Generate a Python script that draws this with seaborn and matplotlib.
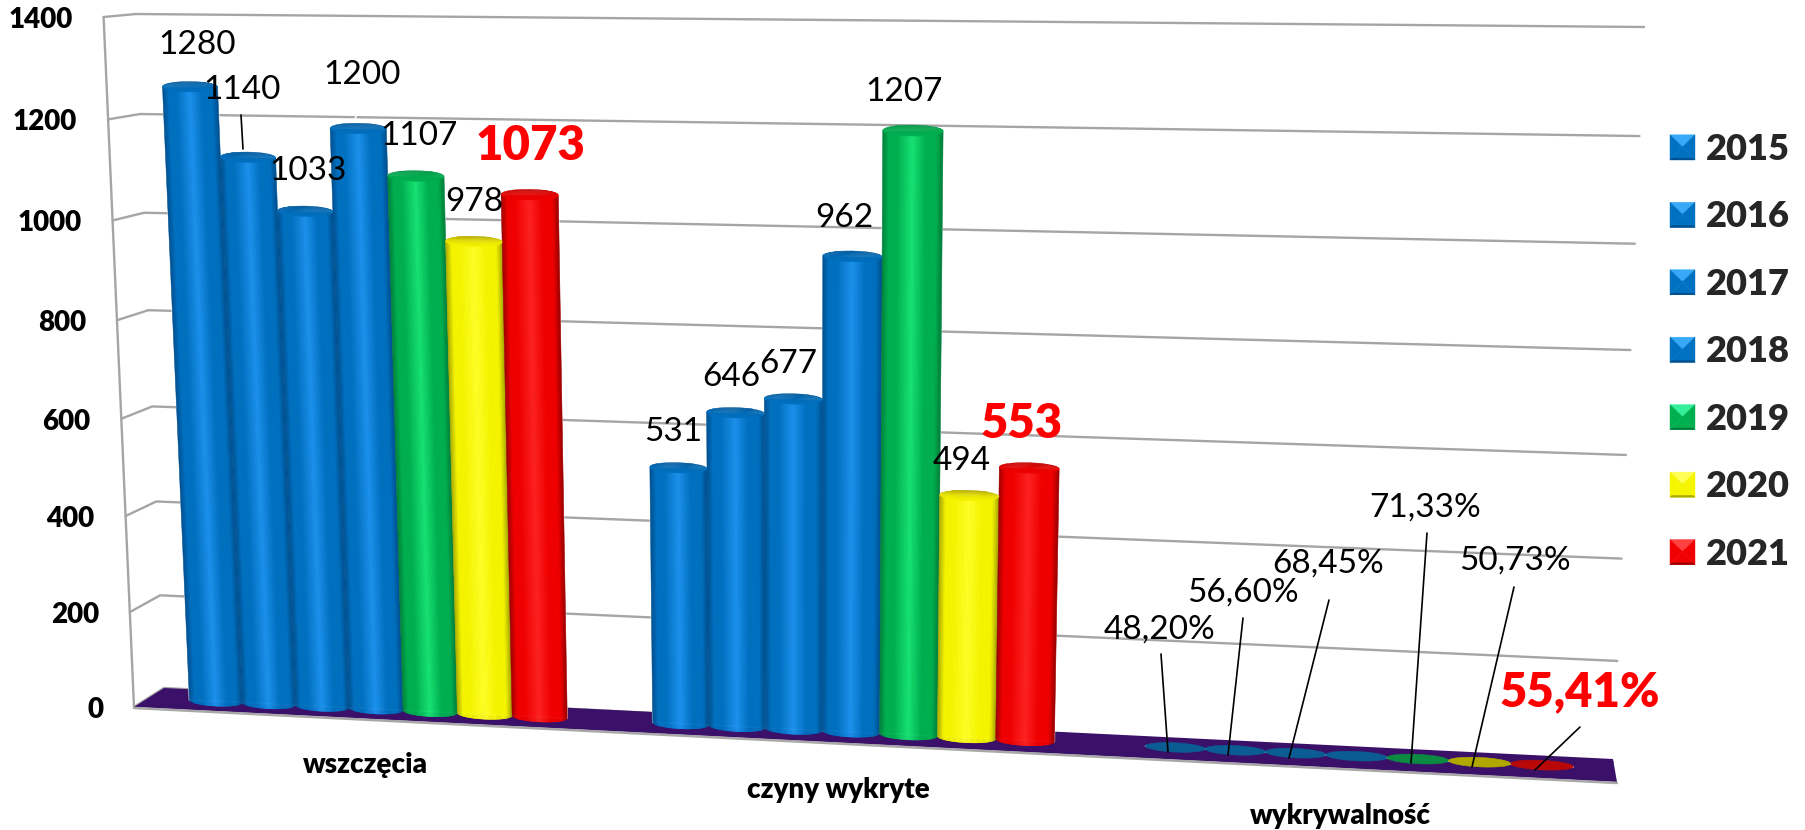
import numpy as np
import pandas as pd
import matplotlib
matplotlib.use("Agg")
import matplotlib.pyplot as plt
import seaborn as sns
from matplotlib.collections import PolyCollection
from matplotlib.colors import LinearSegmentedColormap, to_rgb
from matplotlib.legend_handler import HandlerBase
from matplotlib.patches import Patch, Polygon
from matplotlib.transforms import Affine2D, Transform

# Data
years = ["2015", "2016", "2017", "2018", "2019", "2020", "2021"]
categories = ["wszczęcia", "czyny wykryte", "wykrywalność"]
wszczecia = [1280, 1140, 1033, 1200, 1107, 978, 1073]
czyny = [531, 646, 677, 962, 1207, 494, 553]
wykrywalnosc = [0.4820, 0.5660, 0.6845, 0.6500, 0.7133, 0.5073, 0.5541]
ticks = [0, 200, 400, 600, 800, 1000, 1200, 1400]

# Colours: dark edge, body, highlight, cap, legend top
shades = {
    "blue": ("#004f8e", "#0070c0", "#1c92ee", "#075e9f", "#37a9f7"),
    "green": ("#007f3a", "#00b050", "#17e474", "#049a48", "#35f09a"),
    "yellow": ("#a8a800", "#f5f500", "#ffff28", "#b9ae00", "#ffff55"),
    "red": ("#9a0000", "#f00000", "#ff2222", "#c40505", "#ff4040"),
}
year_shade = ["blue", "blue", "blue", "blue", "green", "yellow", "red"]
disc_colors = ["#0b5c92", "#0b5c92", "#0b5c92", "#0b5c92", "#0b8a42", "#b0a800", "#b80808"]

# Camera used for the tilted chart: (category position, value) to reference pixel
camera = np.array([[449.3, -0.02667, 376.0],
                   [0.9, -0.488, 709.0],
                   [-0.03017, -3.3e-5, 1.0]])
W, H = 1806, 830


class Tilted(Transform):
    input_dims = output_dims = 2
    is_separable = False
    has_inverse = False

    def transform_non_affine(self, values):
        values = np.asarray(values, dtype=float)
        full = np.column_stack([values, np.ones(len(values))]) @ camera.T
        return np.column_stack([full[:, 0] / full[:, 2], H - full[:, 1] / full[:, 2]])


tilted = Tilted()
px = Affine2D().scale(1, -1).translate(0, H)


class BevelHandler(HandlerBase):
    def create_artists(self, legend, orig_handle, xdescent, ydescent, width, height, fontsize, trans):
        dark, mid, _, cap, top = orig_handle.shade
        x0, y0 = -xdescent, -ydescent
        x1, y1 = x0 + width, y0 + height
        cx, cy = (x0 + x1) / 2, y0 + height * 0.52
        d = width * 0.07
        faces = [([(x0, y1), (x1, y1), (cx, cy)], top),
                 ([(x0, y0), (x0, y1), (cx, cy)], mid),
                 ([(x1, y0), (x1, y1), (cx, cy)], mid),
                 ([(x0, y0), (x1, y0), (cx, cy)], mid),
                 ([(x0, y0), (x1, y0), (x1 - d, y0 + d), (x0 + d, y0 + d)], dark)]
        return [Polygon(p, closed=True, facecolor=c, edgecolor=c, lw=0.3, transform=trans) for p, c in faces]


sns.set_theme(style="white")
plt.rcParams["font.family"] = ["Lato", "DejaVu Sans"]

df = pd.DataFrame({
    "kategoria": np.repeat(categories, len(years)),
    "rok": years * len(categories),
    "wartosc": wszczecia + czyny + wykrywalnosc,
})

fig = plt.figure(figsize=(W / 100, H / 100), dpi=100, facecolor="white")
ax = fig.add_axes([0, 0, 1, 1])
palette = {y: shades[s][1] for y, s in zip(years, year_shade)}
sns.barplot(data=df, x="kategoria", y="wartosc", hue="rok", hue_order=years, order=categories,
            palette=palette, width=0.82, gap=0, legend=False, ax=ax)
ax.set_xlim(-0.5, 2.5)
ax.set_ylim(0, 1400)
ax.axis("off")

# Back wall and grid
tilt = -3.1e-5


def wall(v, low, high):
    s = (v / 1400) * (1 + tilt * 1400) / (1 + tilt * v)
    return low + (high - low) * s


front_low, front_high = np.array([134, 707.0]), np.array([103.6, 17.0])
back_low, back_high = np.array([164, 688.0]), np.array([136, 14.0])
right_low, right_high = np.array([1613, 762.0]), np.array([1644, 27.0])
for v in ticks:
    pts = np.array([wall(v, front_low, front_high), wall(v, back_low, back_high), wall(v, right_low, right_high)])
    ax.plot(pts[:, 0], pts[:, 1], color="#a5a5a5", lw=1.7, transform=px, scalex=False, scaley=False,
            zorder=1, clip_on=False, solid_capstyle="round")
    ax.text(pts[0, 0] - 31, pts[0, 1] + 3, str(v), transform=px, ha="right", va="center",
            fontsize=20, fontweight="heavy", color="black", zorder=8)
ax.plot([front_low[0], front_high[0]], [front_low[1], front_high[1]], color="#a5a5a5", lw=1.7,
        transform=px, scalex=False, scaley=False, zorder=1, clip_on=False)

# Floor
ax.add_patch(Polygon([(134, 707), (164, 688), (1613, 759), (1617, 782)], closed=True, facecolor="#3a1068",
                     edgecolor="none", transform=px, zorder=1.5, clip_on=False))
ax.plot([134, 1617], [708, 783], color="#a8a8a8", lw=1.8, transform=px, scalex=False, scaley=False,
        zorder=1.6, clip_on=False)

# Cylinders, taken from the bars seaborn placed
s_grid = np.linspace(-1, 1, 49)
for j, container in enumerate(ax.containers):
    dark, mid, light, cap, _ = shades[year_shade[j]]
    cmap = LinearSegmentedColormap.from_list(
        "cyl", [(0, dark), (0.11, mid), (0.25, mid), (0.5, light), (0.72, mid), (0.9, mid), (1, dark)])
    for i, bar in enumerate(container):
        bar.set_transform(tilted)
        bar.set_clip_on(False)
        bar.set_zorder(2 + 0.01 * j)
        t0, w, h = bar.get_x(), bar.get_width(), bar.get_height()
        tc = t0 + w / 2
        if h > 1:
            e = 10.5
            polys, cols = [], []
            for a, b in zip(s_grid[:-1], s_grid[1:]):
                ra, rb = np.sqrt(1 - a * a), np.sqrt(1 - b * b)
                polys.append([(tc + a * w / 2, -e * ra), (tc + b * w / 2, -e * rb),
                              (tc + b * w / 2, h - e * rb), (tc + a * w / 2, h - e * ra)])
                cols.append(cmap((a + b + 2) / 4))
            ax.add_collection(PolyCollection(polys, facecolors=cols, edgecolors="face", linewidths=0.4,
                                             transform=tilted, zorder=2.1 + 0.01 * j, clip_on=False),
                              autolim=False)
            # the cap goes from the dark rim at the back to the body colour at the front
            bands = np.linspace(-1, 1, 11)
            polys, cols = [], []
            for a, b in zip(bands[:-1], bands[1:]):
                u = np.linspace(a, b, 7)
                half = np.sqrt(1 - u * u)
                left = np.column_stack([tc - half * w / 2, h + e * u])
                right = np.column_stack([tc + half * w / 2, h + e * u])[::-1]
                polys.append(np.vstack([left, right]))
                mix = np.clip((b + 1) / 2, 0, 1) ** 2.2
                cols.append(tuple(np.array(to_rgb(cap)) * mix + np.array(to_rgb(mid)) * (1 - mix)))
            ax.add_collection(PolyCollection(polys, facecolors=cols, edgecolors="face", linewidths=0.3,
                                             transform=tilted, zorder=2.15 + 0.01 * j, clip_on=False),
                              autolim=False)
        else:
            e = 9.5
            theta = np.linspace(0, 2 * np.pi, 73)
            ring = np.column_stack([tc + w / 2 * np.cos(theta), h + e * np.sin(theta)])
            ax.add_patch(Polygon(ring, closed=True, facecolor=disc_colors[j], edgecolor=disc_colors[j], lw=0.4,
                                 transform=tilted, zorder=2.15 + 0.01 * j, clip_on=False))

# Category labels
for i, name in enumerate(categories):
    x, y = tilted.transform(np.array([[i - 0.028, -123.0]]))[0]
    ax.text(x + 1, y, name, ha="center", va="center", fontsize=20, fontweight="heavy", color="black",
            transform=None, zorder=8)

# Value labels
value_text = ["1280", "1140", "1033", "1200", "1107", "978", "1073",
              "531", "646", "677", "962", "1207", "494", "553",
              "48,20%", "56,60%", "68,45%", "", "71,33%", "50,73%", "55,41%"]
label_xy = [(197, 45), (242, 90), (308, 171), (362, 75), (419, 136), (474, 202), (531, 146),
            (673, 432), (731, 377), (788, 364), (844, 218), (904, 92), (962, 461), (1022, 424),
            (1160, 630), (1243, 593), (1328, 564), (0, 0), (1425, 508), (1515, 561), (1580, 692)]
for k, (txt, (x, y)) in enumerate(zip(value_text, label_xy)):
    if not txt:
        continue
    hot = k % 7 == 6
    ax.text(x, y, txt, ha="center", va="center", transform=px, zorder=9,
            fontsize=34 if hot else 24, fontweight="heavy" if hot else "normal",
            color="#ff0000" if hot else "black")

# Leader lines
leaders = [((241, 115), (243, 149), "black"), ((362, 100), (354, 122), "white"),
           ((1161, 654), (1168, 752), "black"), ((1243, 618), (1228, 755), "black"),
           ((1329, 600), (1289, 758), "black"), ((1427, 533), (1411, 763), "black"),
           ((1514, 587), (1472, 767), "black"), ((1580, 727), (1535, 770), "black")]
for a, b, c in leaders:
    ax.plot([a[0], b[0]], [a[1], b[1]], color=c, lw=1.2, transform=px, scalex=False, scaley=False,
            zorder=7, clip_on=False)

# Legend
handles = []
for y, s in zip(years, year_shade):
    p = Patch(facecolor=shades[s][1], label=y)
    p.shade = shades[s]
    handles.append(p)
leg = fig.legend(handles=handles, loc="upper left", bbox_to_anchor=(1670 / W, 1 - 133 / H), frameon=False,
                 prop={"size": 26, "weight": "heavy"}, handler_map={Patch: BevelHandler()},
                 handlelength=0.692, handleheight=0.692, handletextpad=0.3, labelspacing=0.954,
                 borderpad=0, borderaxespad=0)

fig.savefig("out.png", dpi=100, facecolor="white")
